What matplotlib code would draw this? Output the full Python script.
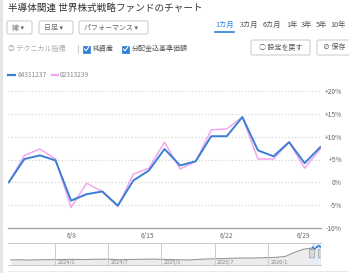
import matplotlib
matplotlib.use("Agg")
import matplotlib.pyplot as plt
from matplotlib.patches import FancyBboxPatch, Rectangle
import numpy as np

plt.rcParams['font.family'] = ['Noto Sans CJK JP', 'DejaVu Sans']

# data (% change over one month)
blue_name = "64311237"
pink_name = "02313239"
blue_vals = [0.0, 5.1, 5.9, 4.8, -4.0, -2.6, -2.0, -5.1, 0.4, 2.6, 7.3,
             3.7, 4.6, 10.1, 10.1, 14.3, 7.0, 5.7, 8.8, 4.2, 7.7]
pink_vals = [0.0, 5.9, 7.3, 5.1, -5.5, -0.2, -2.0, -5.3, 1.8, 3.1, 8.8,
             2.9, 4.6, 11.5, 11.7, 14.3, 5.1, 5.1, 8.8, 3.1, 7.3]
date_ticks = [4, 8.9, 14, 18.9]
date_labels = ["6/8", "6/15", "6/22", "6/29"]
y_ticks = [-10, -5, 0, 5, 10, 15, 20]

# navigator: monthly index, 2023/8 .. 2026/6 (month number from 2023/1 = 0)
nav_months = list(range(7, 42))
nav_vals = [6.5, 6.7, 6.3, 6.6, 6.8,
            6.9, 7.0, 7.2, 6.9, 7.1, 7.4,
            7.3, 6.9, 7.0, 7.1, 7.3, 7.5,
            7.2, 7.0, 6.7, 6.4, 7.0, 7.6,
            8.0, 8.2, 8.5, 9.0, 8.8, 9.1,
            9.4, 9.8, 11.0, 16.0, 20.0, 21.6]
nav_ticks = [12, 18, 24, 30, 36]
nav_labels = ["2024/1", "2024/7", "2025/1", "2025/7", "2026/1"]

title = "半導体関連 世界株式戦略ファンドのチャート"
periods = ["1カ月", "3カ月", "6カ月", "1年", "3年", "5年", "10年"]

W, H = 349, 273
fig = plt.figure(figsize=(W / 100, H / 100), dpi=100)
fig.patch.set_facecolor("white")


def rect(x0, y0, x1, y1):
    return [x0 / W, 1 - y1 / H, (x1 - x0) / W, (y1 - y0) / H]


# overlay in pixel coords for the page widgets
ui = fig.add_axes([0, 0, 1, 1])
ui.set_xlim(0, W)
ui.set_ylim(H, 0)
ui.axis("off")

ui.add_patch(Rectangle((0, 0), 2.5, H, color="#e6e6e6", lw=0))
ui.text(8, 8, title, fontsize=6.9, color="#333333", va="center", ha="left")

# dropdowns
for (x0, x1, lab) in [(7, 32, "線 ▾"), (39, 73, "日足 ▾"), (79, 148, "パフォーマンス ▾")]:
    ui.add_patch(FancyBboxPatch((x0, 21), x1 - x0, 13, boxstyle="round,pad=0,rounding_size=1.5",
                                fc="white", ec="#c8c8c8", lw=0.7))
    ui.text(x0 + 5, 27.5, lab, fontsize=5, color="#666666", va="center", ha="left")

# period tabs
px = [215, 240, 263, 286, 301, 316, 330]
for i, (x, lab) in enumerate(zip(px, periods)):
    ui.text(x, 25, lab, fontsize=5.2, va="center", ha="left",
            color="#2f7ed8" if i == 0 else "#555555")
ui.plot([215, 234], [32, 32], color="#2f7ed8", lw=1.2)

# technical row
ry = 49
ui.text(8, ry, "◎ テクニカル指標", fontsize=5, color="#aaaaaa", va="center", ha="left")
ui.plot([78, 78], [ry - 4, ry + 4], color="#cccccc", lw=0.7)
for cx, lab in [(83, "純資産"), (122, "分配金込基準価額")]:
    ui.add_patch(Rectangle((cx, ry - 3.5), 7, 7, fc="#2f7ed8", ec="#2f7ed8", lw=0.5))
    ui.plot([cx + 1.5, cx + 3, cx + 5.8], [ry, ry + 1.8, ry - 2], color="white", lw=0.8)
    ui.text(cx + 10, ry, lab, fontsize=5, color="#555555", va="center", ha="left")

# buttons
for (x0, x1, lab) in [(251, 310, "○ 設定を戻す"), (317, 351, "⊘ 保存")]:
    ui.add_patch(FancyBboxPatch((x0, 40), x1 - x0, 15, boxstyle="round,pad=0,rounding_size=1.5",
                                fc="white", ec="#c8c8c8", lw=0.7))
    ui.text((x0 + x1) / 2, 47.5, lab, fontsize=5, color="#555555", va="center", ha="center")

# legend
ui.plot([8, 15], [75, 75], color="#3a7fd4", lw=1.6)
ui.text(18, 75, blue_name, fontsize=4.8, color="#888888", va="center", ha="left")
ui.plot([52, 58], [75, 75], color="#f4a6f0", lw=1.6)
ui.text(60, 75, pink_name, fontsize=4.8, color="#888888", va="center", ha="left")

# bottom scrollbar strip
ui.add_patch(Rectangle((8, 270.5), W - 8, 1.5, color="#e8e8e8", lw=0))

# main chart
ax = fig.add_axes(rect(8, 91, 321, 228))
x = np.arange(len(blue_vals))
ax.plot(x, pink_vals, color="#f4a6f0", lw=1.1)
ax.plot(x, blue_vals, color="#3a7fd4", lw=1.4)
ax.set_xlim(-0.05, 20.05)
ax.set_ylim(-10, 20)
ax.set_yticks(y_ticks)
ax.set_yticklabels([("+%d%%" % v) if v > 0 else ("%d%%" % v) for v in y_ticks])
ax.yaxis.tick_right()
ax.tick_params(axis="y", length=0, pad=15.1, labelsize=4.8, labelcolor="#666666")
for t in ax.get_yticklabels():
    t.set_horizontalalignment("right")
ax.set_xticks(date_ticks)
ax.set_xticklabels(date_labels)
ax.tick_params(axis="x", length=0, pad=3, labelsize=4.8, labelcolor="#666666")
ax.grid(axis="y", linestyle=(0, (1, 2)), color="#cfcfcf", lw=0.8)
for s in ["top", "left", "right"]:
    ax.spines[s].set_visible(False)
ax.spines["bottom"].set_color("#a8a8a8")
ax.spines["bottom"].set_linewidth(1.0)
ax.set_facecolor("none")

# navigator
nav = fig.add_axes(rect(8, 243, 321, 265))
nav.fill_between(nav_months, nav_vals, 0, color="#ececec", lw=0)
nav.plot(nav_months, nav_vals, color="#999999", lw=0.8)
nav.set_xlim(6.7, 42.0)
nav.set_ylim(0, 28)
for m, lab in zip(nav_ticks, nav_labels):
    nav.axvline(m, color="#cccccc", lw=0.7)
    nav.text(m + 0.3, 3.5, lab, fontsize=4, color="#888888", va="center", ha="left")
nav.axvspan(41.0, 42.0, color="#e3eefb", lw=0)
bx = 41.0 + x / 20.0
nav.plot(bx, nav_vals[-1] + np.array(blue_vals) * 0.25, color="#3a7fd4", lw=0.8)
for hx in [41.0, 42.0]:
    nav.add_patch(FancyBboxPatch((hx - 0.3, 9), 0.6, 11, boxstyle="round,pad=0,rounding_size=0.2",
                                 fc="#d8d8d8", ec="#999999", lw=0.5))
nav.set_xticks([])
nav.set_yticks([])
for s in ["left", "right"]:
    nav.spines[s].set_visible(False)
for s in ["top", "bottom"]:
    nav.spines[s].set_color("#c8c8c8")
    nav.spines[s].set_linewidth(0.7)

fig.savefig("out.png", dpi=100)
